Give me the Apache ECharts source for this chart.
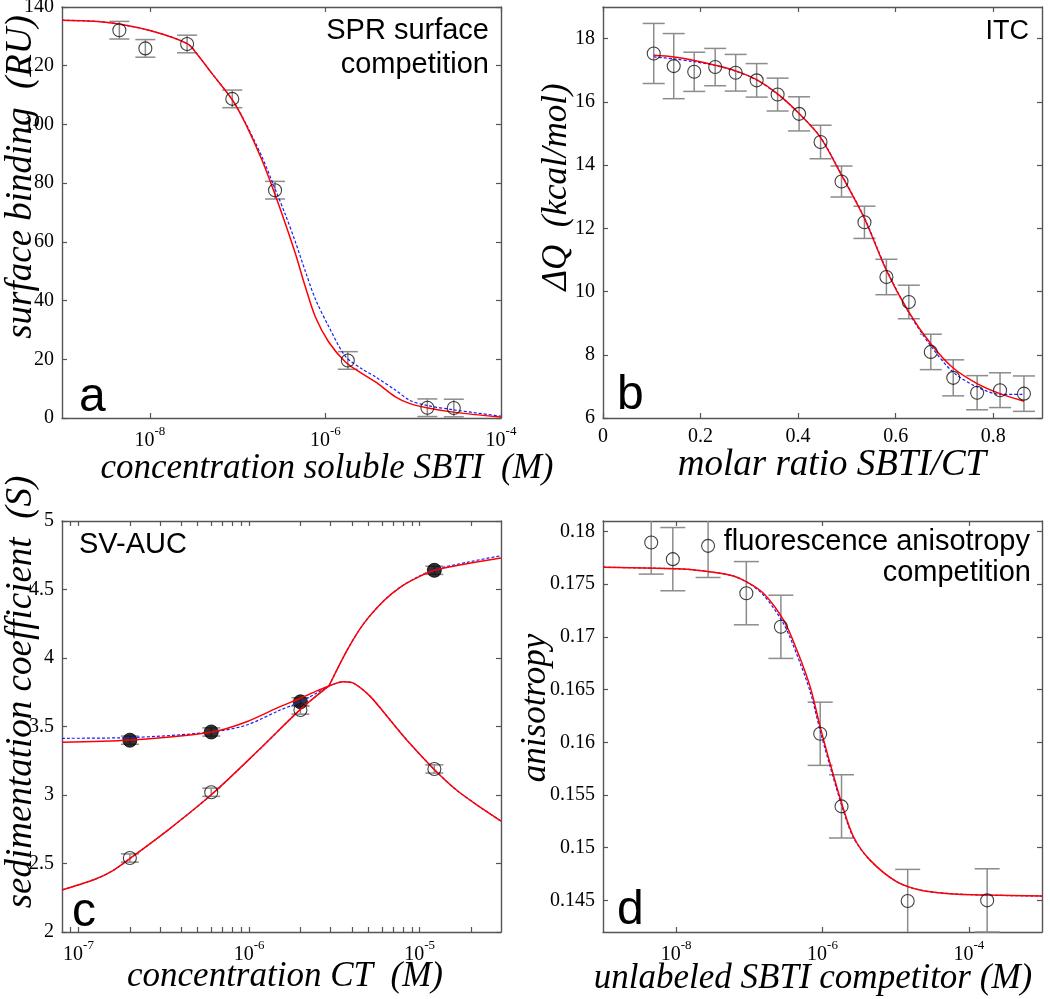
<!DOCTYPE html>
<html><head><meta charset="utf-8">
<script src="https://cdn.jsdelivr.net/npm/echarts@6/dist/echarts.min.js"></script>
<style>html,body{margin:0;padding:0;background:#fff}#c{width:1050px;height:999px}</style>
</head><body><div id="c"></div>
<script>
// ---------- Panel a : SPR surface competition ----------
const aConc = [4.5e-9, 8.9e-9, 2.66e-8, 8.7e-8, 2.67e-7, 1.8e-6, 1.45e-5, 2.9e-5];
const aBind = [132.1, 125.9, 127.4, 108.7, 77.6, 19.6, 3.5, 3.4];
const aErr  = [3, 3, 3, 3, 3, 3, 3, 3];
const aFitConc = [1e-9, 3.16e-9, 1e-8, 2.67e-8, 3.55e-8, 5.12e-8, 8.65e-8, 1.23e-7, 1.9e-7, 2.65e-7, 3.5e-7, 4.55e-7, 5.92e-7, 7.69e-7, 1.09e-6, 1.69e-6, 2.62e-6, 3.72e-6, 6.27e-6, 9.18e-6, 1.42e-5, 2.86e-5, 1e-4];
const aFitRed  = [135.5, 134.8, 132.0, 127.5, 123.5, 117.3, 108.5, 100.3, 87.8, 76.4, 66.2, 56.0, 44.6, 34.4, 25.9, 19.1, 15.1, 12.3, 7.2, 4.9, 3.5, 2.0, 0.3];
const aFitBlue = [135.5, 134.8, 132.0, 127.5, 123.5, 117.3, 108.5, 100.5, 88.9, 78.3, 69.3, 60.0, 49.9, 40.5, 31.2, 21.0, 16.7, 14.0, 9.5, 6.0, 4.3, 2.8, 0.6];
const aXTicks = [1e-8, 1e-6, 1e-4];
const aYTicks = [0, 20, 40, 60, 80, 100, 120, 140];

// ---------- Panel b : ITC ----------
const bRatio = [0.104, 0.145, 0.187, 0.230, 0.272, 0.315, 0.358, 0.402, 0.446, 0.489, 0.536, 0.581, 0.627, 0.672, 0.718, 0.767, 0.814, 0.863];
const bHeat  = [17.53, 17.13, 16.95, 17.10, 16.92, 16.68, 16.23, 15.62, 14.73, 13.48, 12.19, 10.46, 9.67, 8.09, 7.27, 6.80, 6.88, 6.77];
const bErr   = [0.95, 1.03, 0.62, 0.59, 0.58, 0.53, 0.52, 0.54, 0.53, 0.49, 0.51, 0.56, 0.53, 0.56, 0.57, 0.54, 0.55, 0.56];
const bFitRed  = [17.47, 17.42, 17.31, 17.16, 16.98, 16.70, 16.25, 15.63, 14.87, 13.68, 12.31, 10.67, 9.35, 8.35, 7.58, 7.09, 6.77, 6.53];
const bFitBlue = [17.42, 17.36, 17.27, 17.15, 16.97, 16.69, 16.24, 15.63, 14.88, 13.70, 12.33, 10.70, 9.33, 8.28, 7.45, 6.98, 6.75, 6.75];
const bXTicks = [0, 0.2, 0.4, 0.6, 0.8];
const bYTicks = [6, 8, 10, 12, 14, 16, 18];

// ---------- Panel c : SV-AUC ----------
const cConc   = [2e-7, 6e-7, 2e-6, 1.22e-5];
const cFilled = [3.40, 3.46, 3.68, 4.64];
const cOpen   = [2.54, 3.02, 3.62, 3.19];
const cErr    = [0.03, 0.03, 0.03, 0.03];
// fitted curves, split at the crossing point (~2.94e-6)
const cUpperConc = [8.0e-8, 2.0e-7, 6.07e-7, 9.68e-7, 1.52e-6, 2.0e-6, 2.5e-6, 2.94e-6];
const cUpperRed  = [3.385, 3.401, 3.46, 3.535, 3.645, 3.706, 3.76, 3.796];
const cUpperBlue = [3.414, 3.419, 3.46, 3.511, 3.62, 3.68, 3.745, 3.796];
const cLowerConc = [8.0e-8, 1.25e-7, 1.6e-7, 2.01e-7, 3.45e-7, 6.07e-7, 1.14e-6, 2.0e-6, 2.94e-6];
const cLowerRed  = [2.307, 2.385, 2.45, 2.538, 2.757, 3.007, 3.328, 3.625, 3.796];
const cLowerBlue = [2.307, 2.385, 2.45, 2.538, 2.757, 3.007, 3.328, 3.625, 3.796];
const cRiseConc = [2.94e-6, 3.76e-6, 4.71e-6, 6.19e-6, 7.76e-6, 9.75e-6, 1.22e-5, 1.92e-5, 3.0e-5];
const cRiseRed  = [3.796, 4.058, 4.253, 4.42, 4.52, 4.589, 4.64, 4.69, 4.73];
const cRiseBlue = [3.796, 4.058, 4.253, 4.42, 4.52, 4.592, 4.645, 4.70, 4.747];
const cFallConc = [2.94e-6, 3.59e-6, 4.11e-6, 5.13e-6, 6.71e-6, 8.75e-6, 1.21e-5, 1.63e-5, 2.24e-5, 3.0e-5];
const cFallRed  = [3.796, 3.827, 3.815, 3.72, 3.547, 3.377, 3.19, 3.04, 2.915, 2.81];
const cFallBlue = [3.796, 3.827, 3.815, 3.72, 3.547, 3.377, 3.19, 3.04, 2.915, 2.81];
const cXTicks = [9e-8, 1e-7, 2e-7, 3e-7, 4e-7, 5e-7, 6e-7, 7e-7, 8e-7, 9e-7, 1e-6, 2e-6, 3e-6, 4e-6, 5e-6, 6e-6, 7e-6, 8e-6, 9e-6, 1e-5, 2e-5];
const cXLabels = [1e-7, 1e-6, 1e-5];
const cYTicks = [2, 2.5, 3, 3.5, 4, 4.5, 5];

// ---------- Panel d : fluorescence anisotropy ----------
const dConc = [4.56e-9, 9.0e-9, 2.73e-8, 9.1e-8, 2.7e-7, 9.3e-7, 1.82e-6, 1.46e-5, 1.78e-4];
const dAniso = [0.17896, 0.17738, 0.17864, 0.17415, 0.17096, 0.16081, 0.15392, 0.14494, 0.1450];
const dErr = [0.003, 0.003, 0.003, 0.003, 0.003, 0.003, 0.003, 0.003, 0.003];
const dFitConc = [1e-9, 1.03e-8, 1.93e-8, 5.51e-8, 9.2e-8, 1.57e-7, 2.94e-7, 4.47e-7, 6.79e-7, 9.29e-7, 1.27e-6, 1.83e-6, 2.65e-6, 4.47e-6, 1.03e-5, 2.14e-5, 4.95e-5, 1.74e-4, 1e-3];
const dFitRed  = [0.17662, 0.17646, 0.17633, 0.17586, 0.17523, 0.17412, 0.17159, 0.16874, 0.16526, 0.16147, 0.15800, 0.15420, 0.15104, 0.14882, 0.14677, 0.14598, 0.14566, 0.14550, 0.14541];
const dFitBlue = [0.17662, 0.17646, 0.17633, 0.17586, 0.17520, 0.17395, 0.17125, 0.16830, 0.16480, 0.16110, 0.15770, 0.15400, 0.15095, 0.14880, 0.14677, 0.14598, 0.14566, 0.14550, 0.14541];
const dXTicks = [1e-8, 1e-6, 1e-4];
const dYTicks = [0.145, 0.15, 0.155, 0.16, 0.165, 0.17, 0.175, 0.18];

// ---------- build ----------
const AX = '#555';
const SERIF = '"Liberation Serif"';
const RICH = {
  n: {fontSize: 20, fontFamily: SERIF, color: '#000'},
  b: {fontSize: 20, fontFamily: SERIF, color: '#000', lineHeight: 26, verticalAlign: 'bottom'},
  s: {fontSize: 13, fontFamily: SERIF, color: '#000', lineHeight: 14, verticalAlign: 'top'}
};
function powLabel(v) {
  const e = Math.round(Math.log10(v));
  return '{b|10}{s|' + e + '}';
}
function numLabel(v) { return '{n|' + String(+(+v).toFixed(6)) + '}'; }
const grids = [
  {left: 62, top: 7, width: 439, height: 411},
  {left: 603, top: 7, width: 439, height: 411},
  {left: 62, top: 521, width: 439, height: 411},
  {left: 603, top: 521, width: 439, height: 411}
].map(g => Object.assign({outerBoundsMode: 'none', containLabel: false}, g));

const xAxes = [], yAxes = [], series = [];
function makeAxes(g, spec, dim) {
  const base = {
    gridIndex: g, type: spec.type, min: spec.min, max: spec.max,
    axisLine: {show: true, onZero: false, lineStyle: {color: AX, width: 1.4}},
    axisTick: {show: true, inside: true, length: 5, customValues: spec.ticks, lineStyle: {color: AX, width: 1.2}},
    splitLine: {show: false}, minorTick: {show: false}, minorSplitLine: {show: false}
  };
  if (spec.type === 'log') base.logBase = 10;
  const label = {show: true, customValues: spec.labels || spec.ticks, color: '#000',
    fontFamily: SERIF, fontSize: 20, rich: RICH,
    formatter: spec.type === 'log' ? powLabel : numLabel,
    margin: dim === 'x' ? (spec.type === 'log' ? 7 : 9) : 8};
  const primary = Object.assign({}, base, {position: dim === 'x' ? 'bottom' : 'left', axisLabel: label});
  const secondary = Object.assign({}, base, {position: dim === 'x' ? 'top' : 'right', axisLabel: {show: false}});
  return [primary, secondary];
}
function errItem(half, yMin, yMax) {
  return function (params, api) {
    const x = api.value(0), lo = api.value(1), hi = api.value(2);
    const p1 = api.coord([x, Math.max(lo, yMin)]);
    const p2 = api.coord([x, Math.min(hi, yMax)]);
    const st = {stroke: '#8c8c8c', lineWidth: 1.5};
    const ch = [{type: 'line', shape: {x1: p1[0], y1: p1[1], x2: p2[0], y2: p2[1]}, style: st}];
    if (lo >= yMin) ch.push({type: 'line', shape: {x1: p1[0] - half, y1: p1[1], x2: p1[0] + half, y2: p1[1]}, style: st});
    if (hi <= yMax) ch.push({type: 'line', shape: {x1: p2[0] - half, y1: p2[1], x2: p2[0] + half, y2: p2[1]}, style: st});
    return {type: 'group', children: ch};
  };
}
function pairs(xs, ys) { return xs.map((x, i) => [x, ys[i]]); }
function addPanel(g, xs, ys, points, fits, capHalf) {
  const xi = xAxes.length, yi = yAxes.length;
  xAxes.push(...makeAxes(g, xs, 'x'));
  yAxes.push(...makeAxes(g, ys, 'y'));
  points.forEach(p => {
    series.push({type: 'custom', xAxisIndex: xi, yAxisIndex: yi, silent: true,
      renderItem: errItem(capHalf, ys.min, ys.max),
      data: p.x.map((x, i) => [x, p.y[i] - p.e[i], p.y[i] + p.e[i]]),
      encode: {x: 0, y: [1, 2]}, z: 2});
    series.push({type: 'scatter', xAxisIndex: xi, yAxisIndex: yi, data: pairs(p.x, p.y),
      symbol: 'circle', symbolSize: p.size || 13, silent: true,
      itemStyle: p.filled ? {color: '#000', borderColor: '#000', borderWidth: 1}
                          : {color: 'rgba(0,0,0,0)', borderColor: '#111', borderWidth: 1.1},
      z: p.filled ? 3 : 6});
  });
  fits.forEach(f => {
    series.push({type: 'line', xAxisIndex: xi, yAxisIndex: yi, data: pairs(f.x, f.blue),
      symbol: 'none', smooth: 0.3, silent: true,
      lineStyle: {color: '#1a1aff', width: 1.2, type: [3, 2]}, z: 4});
    series.push({type: 'line', xAxisIndex: xi, yAxisIndex: yi, data: pairs(f.x, f.red),
      symbol: 'none', smooth: 0.3, silent: true,
      lineStyle: {color: '#ff0000', width: 1.5}, z: 5});
  });
}

addPanel(0,
  {type: 'log', min: 1e-9, max: 1e-4, ticks: aXTicks},
  {type: 'value', min: 0, max: 140, ticks: aYTicks},
  [{x: aConc, y: aBind, e: aErr}],
  [{x: aFitConc, red: aFitRed, blue: aFitBlue}], 10);
addPanel(1,
  {type: 'value', min: 0, max: 0.9, ticks: bXTicks},
  {type: 'value', min: 6, max: 19, ticks: bYTicks},
  [{x: bRatio, y: bHeat, e: bErr}],
  [{x: bRatio, red: bFitRed, blue: bFitBlue}], 11);
addPanel(2,
  {type: 'log', min: 8e-8, max: 3e-5, ticks: cXTicks, labels: cXLabels},
  {type: 'value', min: 2, max: 5, ticks: cYTicks},
  [{x: cConc, y: cFilled, e: cErr, filled: true, size: 14}, {x: cConc, y: cOpen, e: cErr, size: 13}],
  [{x: cUpperConc, red: cUpperRed, blue: cUpperBlue}, {x: cLowerConc, red: cLowerRed, blue: cLowerBlue},
   {x: cRiseConc, red: cRiseRed, blue: cRiseBlue}, {x: cFallConc, red: cFallRed, blue: cFallBlue}], 9);
addPanel(3,
  {type: 'log', min: 1e-9, max: 1e-3, ticks: dXTicks},
  {type: 'value', min: 0.142, max: 0.181, ticks: dYTicks},
  [{x: dConc, y: dAniso, e: dErr}],
  [{x: dFitConc, red: dFitRed, blue: dFitBlue}], 12.5);

// ---------- texts ----------
const XT = 'italic 35px "Liberation Serif"';
const YT = 'italic 37px "Liberation Serif"';
const SANS = '29px "Liberation Sans"';
function txt(text, x, y, font, align, rot) {
  return {type: 'text', x: x, y: y, rotation: rot || 0, silent: true, z: 10,
    style: {text: text, font: font, fill: '#000', textAlign: align || 'center', textVerticalAlign: 'middle',
            align: align || 'center', verticalAlign: 'middle'}};
}
const R = Math.PI / 2;
const graphics = [
  txt('concentration soluble SBTI  (M)', 327, 469, XT),
  txt('molar ratio SBTI/CT', 832, 465, 'italic 37px "Liberation Serif"'),
  txt('concentration CT  (M)', 285, 977, XT),
  txt('unlabeled SBTI competitor (M)', 813, 979, XT),
  txt('surface binding  (RU)', 21, 177, YT, 'center', R),
  txt('ΔQ  (kcal/mol)', 557, 187, 'italic 35px "Liberation Serif"', 'center', R),
  txt('sedimentation coefficient  (S)', 21, 692, YT, 'center', R),
  txt('anisotropy', 536, 708, 'italic 35px "Liberation Serif"', 'center', R),
  txt('SPR surface', 489, 31, SANS, 'right'),
  txt('competition', 489, 65, SANS, 'right'),
  txt('ITC', 1029, 32, '27px "Liberation Sans"', 'right'),
  txt('SV-AUC', 79, 545, SANS, 'left'),
  txt('fluorescence anisotropy', 1030, 542, SANS, 'right'),
  txt('competition', 1031, 573, SANS, 'right'),
  txt('a', 79, 398, '48px "Liberation Sans"', 'left'),
  txt('b', 617, 396, '48px "Liberation Sans"', 'left'),
  txt('c', 72, 913, '48px "Liberation Sans"', 'left'),
  txt('d', 617, 911, '48px "Liberation Sans"', 'left')
];

const chart = echarts.init(document.getElementById('c'), null, {renderer: 'canvas'});
chart.setOption({
  animation: false,
  backgroundColor: '#fff',
  textStyle: {fontFamily: SERIF},
  grid: grids,
  xAxis: xAxes,
  yAxis: yAxes,
  series: series,
  graphic: graphics
});
</script></body></html>
